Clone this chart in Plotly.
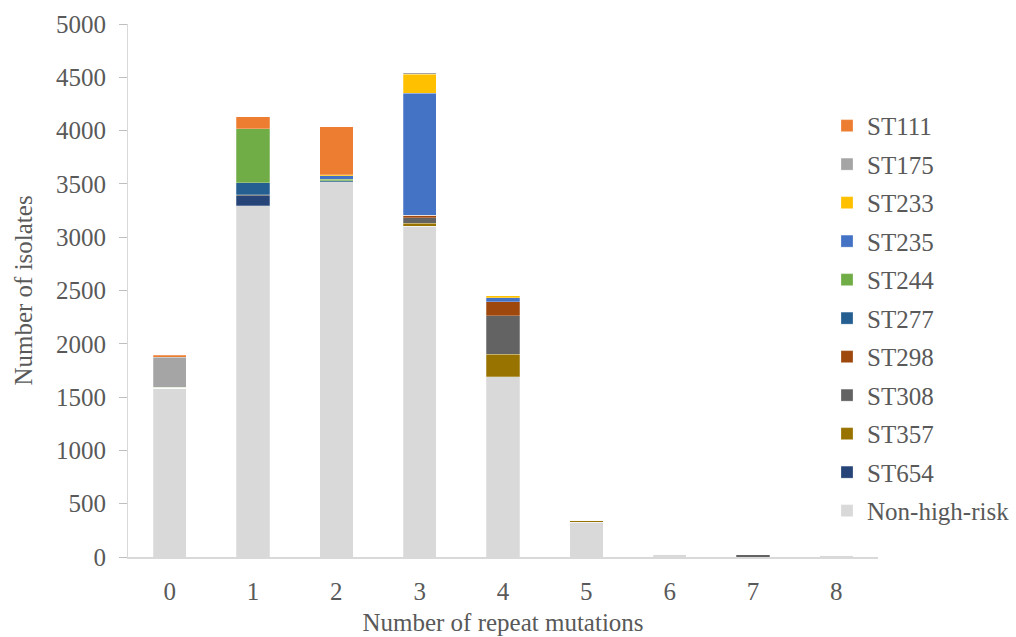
import plotly.graph_objects as go

# Number of repeat mutations (x categories)
mutations = ["0", "1", "2", "3", "4", "5", "6", "7", "8"]

# Isolate counts per sequence type, listed bottom-to-top of each stack
non_high_risk = [1585, 3293, 3518, 3105, 1689, 328, 28, 0, 15]
st654 = [0, 94, 0, 0, 0, 0, 0, 0, 0]
st357 = [0, 0, 0, 28, 213, 18, 0, 0, 0]
st308 = [0, 10, 0, 50, 359, 0, 0, 20, 0]
st298 = [0, 0, 0, 23, 134, 0, 0, 0, 0]
st277 = [0, 113, 10, 0, 0, 0, 0, 0, 0]
st244 = [6, 507, 15, 0, 0, 0, 0, 0, 0]
st235 = [0, 0, 35, 1144, 38, 0, 0, 0, 0]
st233 = [0, 0, 10, 178, 16, 0, 0, 0, 0]
st175 = [281, 0, 0, 15, 0, 0, 0, 0, 0]
st111 = [20, 113, 450, 0, 0, 0, 0, 0, 0]

series = [
    ("Non-high-risk", non_high_risk, "#D9D9D9"),
    ("ST654", st654, "#264478"),
    ("ST357", st357, "#997300"),
    ("ST308", st308, "#636363"),
    ("ST298", st298, "#9E480E"),
    ("ST277", st277, "#255E91"),
    ("ST244", st244, "#70AD47"),
    ("ST235", st235, "#4472C4"),
    ("ST233", st233, "#FFC000"),
    ("ST175", st175, "#A5A5A5"),
    ("ST111", st111, "#ED7D31"),
]

font_family = "Liberation Serif"
text_color = "#595959"
font_size = 25

fig = go.Figure()
for i, (name, values, color) in enumerate(series):
    fig.add_trace(go.Bar(
        x=mutations,
        y=values,
        name=name,
        legendgroup=name,
        legendrank=1000 - i,
        marker=dict(color=color, line=dict(color="rgba(255,255,255,0.5)", width=0.5)),
    ))

fig.update_layout(
    barmode="stack",
    bargap=0.6,
    width=1016,
    height=637,
    margin=dict(l=128, r=138, t=24, b=80, autoexpand=False),
    plot_bgcolor="white",
    paper_bgcolor="white",
    font=dict(family=font_family, size=font_size, color=text_color),
    legend=dict(
        x=0.932,
        y=0.852,
        xanchor="left",
        yanchor="top",
        traceorder="grouped",
        tracegroupgap=3,
        font=dict(family=font_family, size=font_size, color=text_color),
        bgcolor="rgba(0,0,0,0)",
    ),
    showlegend=True,
)

fig.update_xaxes(
    type="category",
    showline=True,
    linecolor="#D9D9D9",
    linewidth=1.5,
    ticks="",
    showgrid=False,
    ticklabelstandoff=11,
    title=dict(text="Number of repeat mutations", font=dict(family=font_family, size=font_size, color=text_color), standoff=10),
)

fig.update_yaxes(
    range=[0, 5000],
    dtick=500,
    showline=True,
    linecolor="#D9D9D9",
    linewidth=1,
    ticks="outside",
    ticklen=8,
    tickcolor="#BFBFBF",
    showgrid=False,
    zeroline=False,
    ticklabelstandoff=8,
    title=dict(text="Number of isolates", font=dict(family=font_family, size=font_size, color=text_color), standoff=16),
)

fig.write_html("out.html")
